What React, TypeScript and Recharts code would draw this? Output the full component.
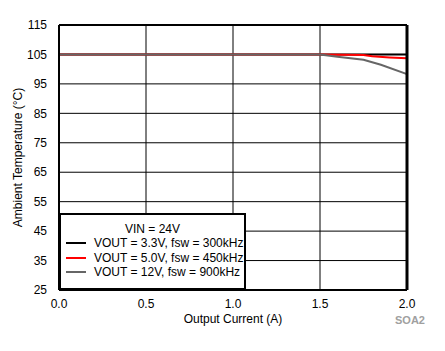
import { LineChart, Line, XAxis, YAxis, CartesianGrid, ReferenceLine, Label } from "recharts"

const xTicks = [0, 0.5, 1.0, 1.5, 2.0]
const yTicks = [25, 35, 45, 55, 65, 75, 85, 95, 105, 115]

const vout33 = [
  { x: 0, y: 105 },
  { x: 2.0, y: 105 },
]
const vout50 = [
  { x: 0, y: 105 },
  { x: 1.5, y: 105 },
  { x: 1.75, y: 104.8 },
  { x: 1.8, y: 104.4 },
  { x: 1.9, y: 104.0 },
  { x: 2.0, y: 103.7 },
]
const vout12 = [
  { x: 0, y: 105 },
  { x: 1.5, y: 105 },
  { x: 1.6, y: 104.2 },
  { x: 1.75, y: 103.2 },
  { x: 1.85, y: 101.5 },
  { x: 2.0, y: 98.3 },
]

const series = [
  { name: "VOUT = 3.3V, fsw = 300kHz", color: "#000000", data: vout33 },
  { name: "VOUT = 5.0V, fsw = 450kHz", color: "#ff0000", data: vout50 },
  { name: "VOUT = 12V, fsw = 900kHz", color: "#666666", data: vout12 },
]

const font = "'Liberation Sans', Arial, sans-serif"

function LegendBox() {
  return (
    <div
      style={{
        position: "absolute",
        left: 59,
        top: 213,
        width: 183,
        height: 73,
        background: "#fff",
        border: "2px solid #000",
        fontFamily: font,
        fontSize: 12,
        color: "#000",
      }}
    >
      <div style={{ textAlign: "center", marginTop: 7, lineHeight: "14px" }}>VIN = 24V</div>
      {series.map((s) => (
        <div key={s.name} style={{ display: "flex", alignItems: "center", height: 14.5, marginLeft: 5 }}>
          <span style={{ width: 20, height: 2, background: s.color, marginRight: 8 }} />
          <span>{s.name}</span>
        </div>
      ))}
    </div>
  )
}

export default function App() {
  return (
    <div style={{ position: "absolute", left: 0, top: 0, width: 445, height: 351, background: "#fff" }}>
      <LineChart width={445} height={351} margin={{ top: 25, right: 38, bottom: 31, left: 0 }}>
        <CartesianGrid stroke="#000" strokeWidth={1} />
        <XAxis
          type="number"
          dataKey="x"
          domain={[0, 2]}
          ticks={xTicks}
          height={30}
          tickFormatter={(v: number) => v.toFixed(1)}
          axisLine={false}
          tickLine={false}
          tick={{ fill: "#000", fontSize: 12, fontFamily: font }}
          tickMargin={3}
          allowDuplicatedCategory={false}
        >
          <Label value="Output Current (A)" position="insideBottom" offset={-3} style={{ fill: "#000", fontSize: 12, fontFamily: font }} />
        </XAxis>
        <YAxis
          type="number"
          domain={[25, 115]}
          ticks={yTicks}
          width={59}
          axisLine={false}
          tickLine={false}
          tick={{ fill: "#000", fontSize: 12, fontFamily: font }}
          tickMargin={6}
        >
          <Label
            value="Ambient Temperature (°C)"
            angle={-90}
            position="insideLeft"
            offset={18}
            style={{ textAnchor: "middle", fill: "#000", fontSize: 12, fontFamily: font }}
          />
        </YAxis>
        {series.map((s) => (
          <Line
            key={s.name}
            data={s.data}
            dataKey="y"
            name={s.name}
            stroke={s.color}
            strokeWidth={2}
            dot={false}
            type="linear"
            isAnimationActive={false}
          />
        ))}
        <ReferenceLine x={0} stroke="#000" strokeWidth={2} />
        <ReferenceLine x={2} stroke="#000" strokeWidth={3} />
        <ReferenceLine y={25} stroke="#000" strokeWidth={2} />
        <ReferenceLine y={115} stroke="#000" strokeWidth={2} />
        <text x={410} y={324} textAnchor="middle" fill="#a0a0a0" fontSize={11} fontWeight="bold" fontFamily={font}>
          SOA2
        </text>
      </LineChart>
      <LegendBox />
    </div>
  )
}
